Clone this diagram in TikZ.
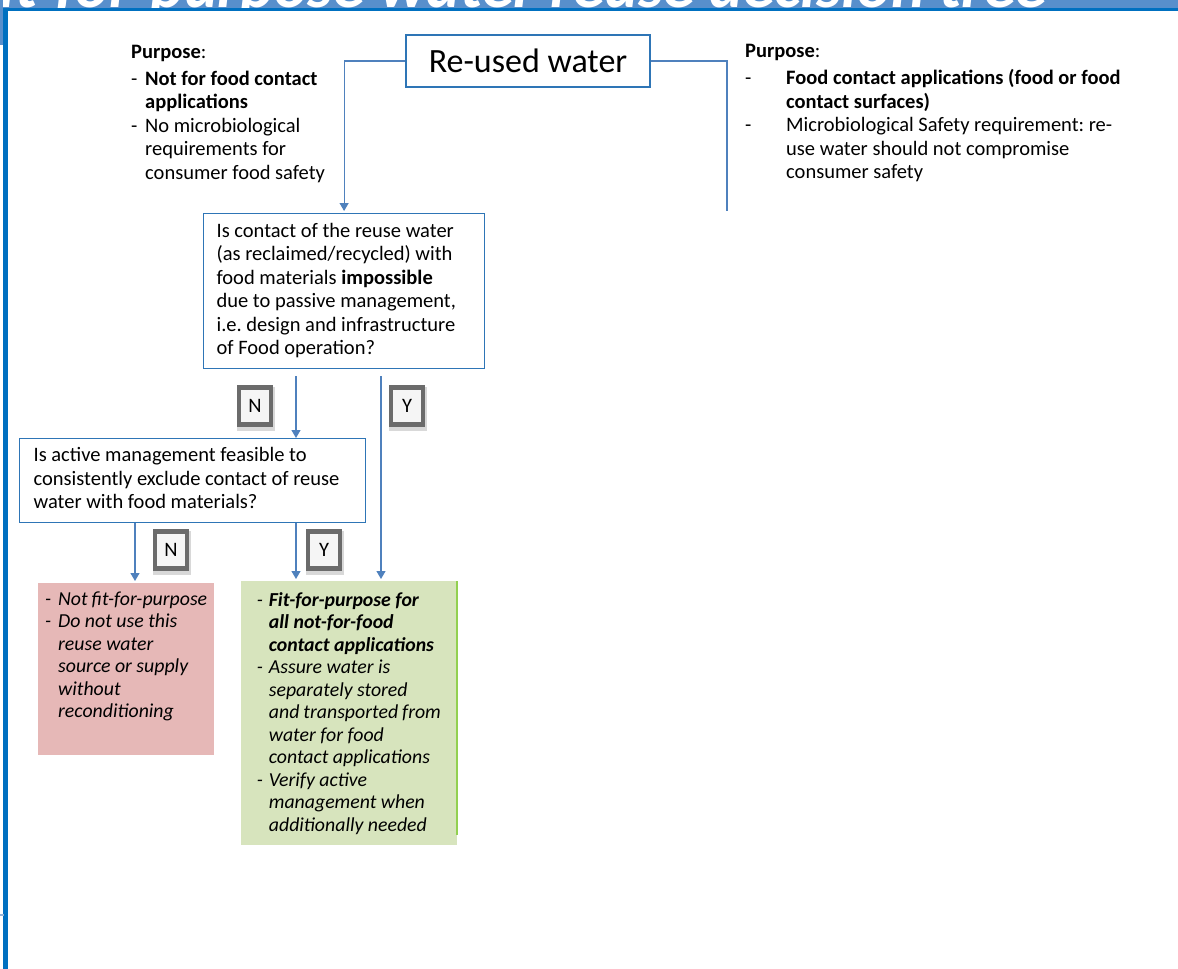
\documentclass[tikz,border=0pt]{standalone}
\usepackage{fontspec}
\setmainfont{Carlito}
\usetikzlibrary{arrows.meta, calc, positioning, shadows}
\definecolor{boxblue}{RGB}{46,117,182}
\definecolor{linkblue}{RGB}{79,129,189}
\definecolor{bannerblue}{RGB}{88,143,204}
\definecolor{barblue}{RGB}{0,112,192}
\definecolor{notfitred}{RGB}{230,184,183}
\definecolor{fitgreen}{RGB}{215,228,189}
\definecolor{fitedge}{RGB}{146,208,80}
\newcommand{\bodyfont}{\fontsize{20.5}{23.5}\selectfont\frenchspacing}
\newcommand{\outfont}{\fontsize{19.8}{22.5}\selectfont\itshape}
\newcommand{\dsh}[1][14pt]{\makebox[#1][l]{-}}
\newcommand{\listgap}[1][14pt]{\hspace*{#1}}

\begin{document}
\begin{tikzpicture}[x=1pt, y=-1pt,
    qbox/.style={draw=boxblue, line width=1.2pt, anchor=north west, align=flush left, inner xsep=13pt, inner ysep=7pt, font=\bodyfont},
    purp/.style={anchor=north west, align=flush left, inner sep=0pt, font=\bodyfont},
    keybtn/.style={draw=black!58, line width=4.5pt, fill=black!4, minimum width=32pt, minimum height=37pt, inner sep=0pt, font=\bodyfont,
        preaction={draw=white, line width=10pt},
        drop shadow={shadow xshift=1pt, shadow yshift=-2.5pt, shadow scale=1.2, opacity=.25, fill=black!60}},
    link/.style={draw=linkblue, line width=1.2pt},
    arrow/.style={link, -{Triangle[width=9pt, length=8pt]}, shorten >=2pt},
    badbox/.style={anchor=north west, fill=notfitred, inner xsep=7pt, inner ysep=6.2pt, font=\outfont},
    goodbox/.style={anchor=north west, fill=fitgreen, inner xsep=15.7pt, inner ysep=9.2pt, font=\outfont}]
    \useasboundingbox (0,0) rectangle (1178,969);

    % Banner and frame
    \fill[bannerblue] (0,0) rectangle (1178,8);
    \begin{scope}
        \clip (0,0) rectangle (1178,7.5);
        \node[anchor=base west, text=white, inner sep=0pt, font=\fontsize{64}{70}\selectfont\bfseries\itshape] (title) at (-30,7.5) {Fit-for-purpose water reuse decision tree};
    \end{scope}
    \fill[barblue] (3,7.5) rectangle (1178,10.5);
    \fill[bannerblue] (0,0) rectangle (3,45);
    \fill[barblue] (3,7.5) rectangle (8,969);
    \draw[linkblue!60, line width=2pt] (0,915) -- (4,915);

    % Top node
    \node[draw=boxblue, line width=1.2pt, minimum width=244pt, minimum height=52pt, font=\fontsize{34}{40}\selectfont] (reuse) at (528,61) {Re-used water};

    % Purposes
    \node[purp] (lpurp) at (131,42) {\strut\textbf{Purpose}:\\[3pt]
        \dsh\textbf{Not for food contact}\\
        \listgap\textbf{applications}\\
        \dsh No microbiological\\
        \listgap requirements for\\
        \listgap consumer food safety};
    \node[purp] (rpurp) at (745,41) {\strut\textbf{Purpose}:\\[3.5pt]
        \dsh[41pt]\textbf{Food contact applications (food or food}\\
        \listgap[41pt]\textbf{contact surfaces)}\\
        \dsh[41pt]Microbiological Safety requirement: re-\\
        \listgap[41pt]use water should not compromise\\
        \listgap[41pt]consumer safety};

    % Questions
    \node[qbox, text width=255pt] (q1) at (203,213) {\strut Is contact of the reuse water\\
        (as reclaimed/recycled) with\\
        food materials \textbf{impossible}\\
        due to passive management,\\
        i.e. design and infrastructure\\
        of Food operation?\strut};
    \node[qbox, text width=318pt, inner xsep=14pt, inner ysep=6.5pt] (q2) at (19,438) {\strut Is active management feasible to\\
        consistently exclude contact of reuse\\
        water with food materials?\strut};

    % Outcomes
    \node[badbox] (bad) at (38,583) {\parbox[t][159pt][t]{162pt}{\strut\dsh[13pt]Not fit-for-purpose\\
        \dsh[13pt]Do not use this\\
        \listgap[13pt]reuse water\\
        \listgap[13pt]source or supply\\
        \listgap[13pt]without\\
        \listgap[13pt]reconditioning}};
    \node[goodbox] (good) at (241,581) {\parbox[t][245pt][t]{184pt}{\strut\dsh[12pt]\textbf{Fit-for-purpose for}\\
        \listgap[12pt]\textbf{all not-for-food}\\
        \listgap[12pt]\textbf{contact applications}\\
        \dsh[12pt]Assure water is\\
        \listgap[12pt]separately stored\\
        \listgap[12pt]and transported from\\
        \listgap[12pt]water for food\\
        \listgap[12pt]contact applications\\
        \dsh[12pt]Verify active\\
        \listgap[12pt]management when\\
        \listgap[12pt]additionally needed}};
    \draw[fitedge, line width=1.5pt] (good.north east) -- ([yshift=10pt]good.south east);

    % Connectors
    \coordinate (rend) at (727,211);
    \draw[arrow] (reuse.west) -| (q1.north);
    \draw[link] (reuse.east) -| (rend);
    \coordinate (q1n) at ($(q1.south west)+(93,7)$);
    \coordinate (q1y) at ($(q1.south west)+(178,7)$);
    \coordinate (q2n) at ($(q2.south west)+(116,0)$);
    \coordinate (q2y) at ($(q2.south west)+(277,0)$);
    \draw[arrow, shorten >=0pt] (q1n) -- (q1n |- q2.north);
    \draw[arrow] (q1y) -- (q1y |- good.north);
    \draw[arrow] (q2n) -- (q2n |- bad.north);
    \draw[arrow] (q2y) -- (q2y |- good.north);

    % Answer keys
    \node[keybtn] (n1) at (255,406) {N};
    \node[keybtn] (y1) at (407,406) {Y};
    \node[keybtn] (n2) at (171,550) {N};
    \node[keybtn] (y2) at (324,550) {Y};
\end{tikzpicture}
\end{document}
